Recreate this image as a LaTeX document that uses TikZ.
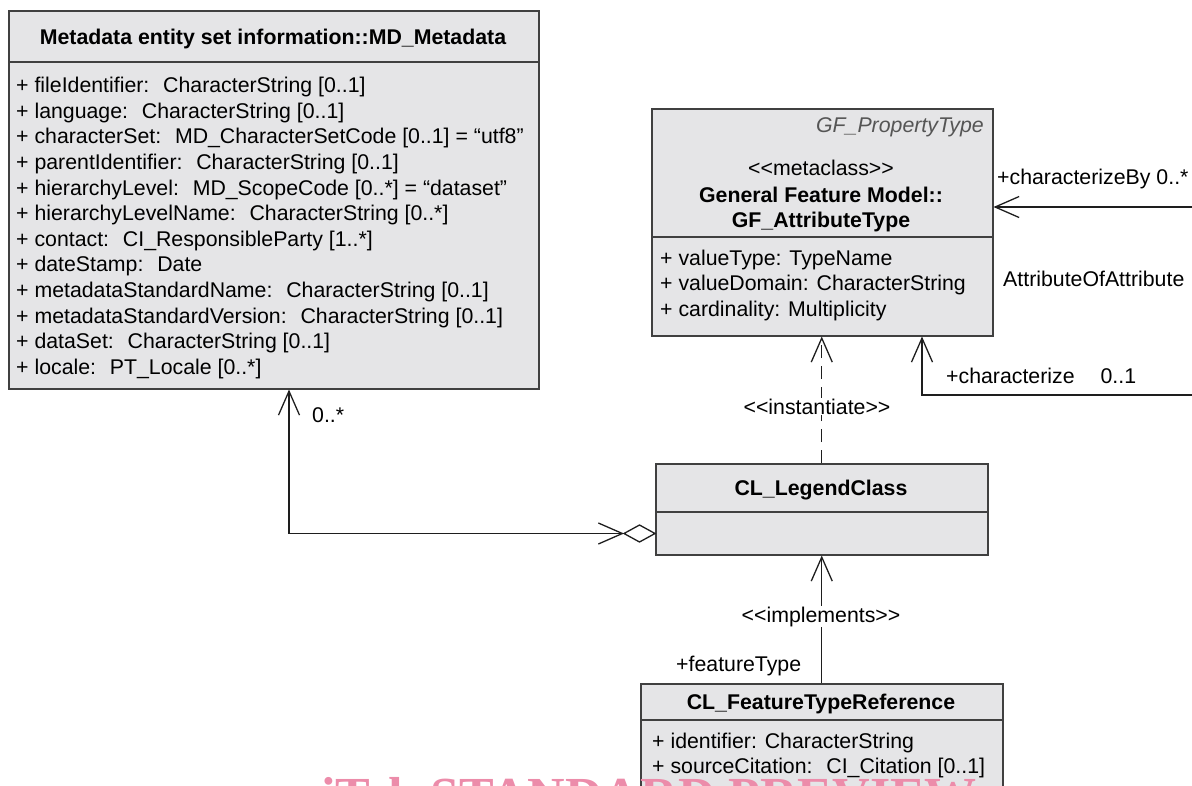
\documentclass[tikz,border=0pt]{standalone}
\usepackage{fontspec}
\setmainfont{Liberation Sans}[Ligatures=TeXOff]
\newfontfamily\wmfont{Liberation Serif}
\usetikzlibrary{arrows.meta,calc}
\definecolor{boxfill}{RGB}{229,229,231}
\definecolor{boxline}{RGB}{64,64,64}
\definecolor{lncol}{RGB}{30,30,30}
\definecolor{wmpink}{RGB}{236,140,170}
\definecolor{stereogray}{RGB}{85,85,85}
\begin{document}
\begin{tikzpicture}[x=1pt,y=-1pt,
  font=\fontsize{21.3}{25.6}\selectfont,
  umlbox/.style={draw=boxline, line width=1.5pt, fill=boxfill, inner sep=0pt, anchor=north west},
  sepline/.style={draw=boxline, line width=1.5pt},
  attr/.style={anchor=base west, inner sep=0pt},
  ctitle/.style={anchor=base, inner sep=0pt, font=\fontsize{21.3}{25.6}\selectfont\bfseries},
  lbl/.style={anchor=base west, inner sep=0pt},
  clbl/.style={anchor=base, inner sep=1pt, fill=white},
  conn/.style={draw=lncol, line width=1.3pt},
  openhead/.style={-{Straight Barb[length=24pt,width=21pt,line width=1.3pt]}},
  openheads/.style={{Straight Barb[length=24pt,width=21pt,line width=1.3pt]}-{Straight Barb[length=24pt,width=21pt,line width=1.3pt]}}
]
\useasboundingbox (0,0) rectangle (1192,785);
\clip (0,0) rectangle (1192,785);

% ---------- MD_Metadata ----------
\node[umlbox, minimum width=530pt, minimum height=378pt] (md) at (8,10) {};
\draw[sepline] (8,62) -- (538,62);
\node[ctitle] (mdt) at (273,44.5) {Metadata entity set information::MD\_Metadata};
\foreach \t [count=\i] in {
  {+ fileIdentifier:~ CharacterString [0..1]},
  {+ language:~ CharacterString [0..1]},
  {+ characterSet:~ MD\_CharacterSetCode [0..1] = “utf8”},
  {+ parentIdentifier:~ CharacterString [0..1]},
  {+ hierarchyLevel:~ MD\_ScopeCode [0..*] = “dataset”},
  {+ hierarchyLevelName:~ CharacterString [0..*]},
  {+ contact:~ CI\_ResponsibleParty [1..*]},
  {+ dateStamp:~ Date},
  {+ metadataStandardName:~ CharacterString [0..1]},
  {+ metadataStandardVersion:~ CharacterString [0..1]},
  {+ dataSet:~ CharacterString [0..1]},
  {+ locale:~ PT\_Locale [0..*]}}
  \node[attr] (mda\i) at (16,{92.7+25.6*(\i-1)}) {\t};

% ---------- GF_AttributeType ----------
\node[umlbox, minimum width=341pt, minimum height=227pt] (gf) at (651,108) {};
\draw[sepline] (651,237) -- (992,237);
\node[anchor=base east, inner sep=0pt, text=stereogray, font=\fontsize{21.3}{25.6}\selectfont\itshape] (gfp) at (984,132) {GF\_PropertyType};
\node[anchor=base, inner sep=0pt] (gfs) at (821,175) {<<metaclass>>};
\node[ctitle] (gft1) at (821,202) {General Feature Model::};
\node[ctitle] (gft2) at (821,227) {GF\_AttributeType};
\node[attr] (gfa1) at (660,265) {+ valueType: TypeName};
\node[attr] (gfa2) at (660,290.5) {+ valueDomain: CharacterString};
\node[attr] (gfa3) at (660,316) {+ cardinality: Multiplicity};

% ---------- CL_LegendClass ----------
\node[umlbox, minimum width=332pt, minimum height=91pt] (legend) at (655,463) {};
\draw[sepline] (655,512) -- (987,512);
\node[ctitle] (legt) at (821,495.5) {CL\_LegendClass};

% ---------- CL_FeatureTypeReference ----------
\node[umlbox, minimum width=362pt, minimum height=140pt] (ftr) at (640,683) {};
\draw[sepline] (640,720) -- (1002,720);
\node[ctitle] (ftrt) at (821,709) {CL\_FeatureTypeReference};
\node[attr] (ftra1) at (652,748) {+ identifier: CharacterString};
\node[attr] (ftra2) at (652,773.5) {+ sourceCitation:~ CI\_Citation [0..1]};

% ---------- connectors ----------
% characterizeBy
\coordinate (rE1) at (1192,207);
\draw[conn, openhead] (rE1) -- (rE1 -| gf.east);
\node[lbl] (cbl) at (997,184) {+characterizeBy\hspace{6pt}0..*};
\node[lbl] (aoa) at (1003,286) {AttributeOfAttribute};
% characterize
\coordinate (rE2) at (1192,395);
\draw[conn, openhead] (rE2) -| ([xshift=271pt]gf.south west);
\node[lbl] (chl) at (946,383) {+characterize\hspace{26pt}0..1};

% instantiate (dashed)
\draw[conn, openhead, dash pattern=on 13pt off 8pt] (legend.north) -- (legend.north |- gf.south);
\node[clbl] (inst) at (817,414) {<<instantiate>>};

% implements
\draw[conn, openhead] (ftr.north) -- (legend.south);
\node[clbl] (impl) at (821,622) {<<implements>>};
\node[lbl] (ftl) at (676,671) {+featureType};

% aggregation
\coordinate (lw) at ($(legend.south west)+(0,-22)$);
\coordinate (dl) at ($(lw)+(-31,0)$);
\draw[conn, openheads] ([xshift=281pt]md.south west) |- (dl);
\draw[conn, fill=white, line join=miter] (lw) -- ++(-15.5,-8.5) -- (dl) -- ++(15.5,8.5) -- cycle;
\node[lbl] (mult) at (312,422) {0..*};

% watermark
\node[anchor=base west, inner sep=0pt, text=wmpink, font=\wmfont\bfseries\fontsize{52}{52}\selectfont] (wm) at (321,813) {iTeh STANDARD PREVIEW};
\end{tikzpicture}
\end{document}
